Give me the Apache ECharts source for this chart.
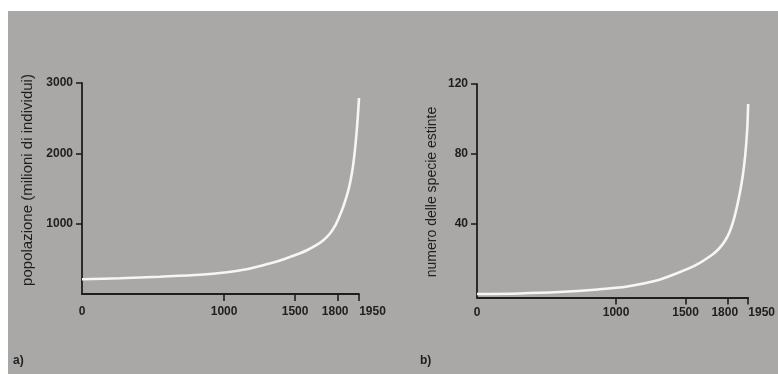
<!DOCTYPE html>
<html>
<head>
<meta charset="utf-8">
<script src="https://cdn.jsdelivr.net/npm/echarts@6/dist/echarts.min.js"></script>
<style>
  html, body { margin: 0; padding: 0; background: #fff; }
  #paper { position: absolute; left: 8px; top: 11px; width: 770px; height: 363px; background: #aaa8a6; }
  #main { position: absolute; left: 0; top: 0; width: 778px; height: 374px; }
</style>
</head>
<body>
<div id="paper"></div>
<div id="main"></div>
<script>
// a) popolazione mondiale (milioni)
var yearsA = [0, 268, 549, 831, 1021, 1148, 1253, 1394, 1535, 1591, 1652, 1697, 1746, 1781, 1809, 1837, 1866, 1887, 1908, 1925, 1939, 1950];
var popA = [209, 223, 246, 273, 309, 348, 398, 476, 579, 629, 697, 761, 860, 967, 1088, 1230, 1408, 1578, 1820, 2119, 2446, 2787];

// b) numero delle specie estinte
var yearsB = [0, 304, 587, 869, 1081, 1293, 1434, 1576, 1694, 1738, 1773, 1802, 1826, 1848, 1869, 1890, 1911, 1929, 1943, 1950];
var specB = [0, 0.3, 1.1, 2.6, 4.3, 7.7, 11.7, 16.6, 22.6, 25.7, 29.1, 32.9, 37.4, 42.9, 49.7, 57.7, 67.4, 79.4, 93.7, 108.6];

var xTicks = [0, 1000, 1500, 1800, 1950];
var yTicksA = [1000, 2000, 3000];
var yTicksB = [40, 80, 120];

var font = "'Liberation Sans', Arial, sans-serif";
var ink = '#1e1e1e';
var curve = '#f6f6f2';

function pairs(xs, ys) {
  return xs.map(function (x, i) { return [x, ys[i]]; });
}

var labelRich = {
  n: { fontFamily: font, fontSize: 12, fontWeight: 'bold', color: ink },
  l: { fontFamily: font, fontSize: 12, fontWeight: 'bold', color: ink, padding: [0, 5, 0, 0] },
  r: { fontFamily: font, fontSize: 12, fontWeight: 'bold', color: ink, padding: [0, 0, 0, 27] }
};

function xAxisFor(gridIndex, margin) {
  return {
    type: 'value', gridIndex: gridIndex, min: 0, max: 1950,
    splitLine: { show: false },
    axisLine: { onZero: false, lineStyle: { color: ink, width: 1.8 } },
    axisTick: { customValues: [1000, 1500, 1800, 1950], length: 7, lineStyle: { color: ink, width: 1.6 } },
    axisLabel: {
      customValues: xTicks, margin: margin, rich: labelRich,
      formatter: function (v) {
        if (v === 1950) return '{r|1950}';
        if (v === 1800) return '{l|1800}';
        return '{n|' + v + '}';
      }
    }
  };
}

function yAxisFor(gridIndex, min, max, ticks) {
  return {
    type: 'value', gridIndex: gridIndex, min: min, max: max,
    splitLine: { show: false },
    axisLine: { show: true, onZero: false, lineStyle: { color: ink, width: 1.8 } },
    axisTick: { customValues: ticks, length: 6, lineStyle: { color: ink, width: 1.6 } },
    axisLabel: {
      customValues: ticks, margin: 9,
      fontFamily: font, fontSize: 12, fontWeight: 'bold', color: ink,
      formatter: function (v) { return String(v); }
    }
  };
}

function lineSeries(idx, data) {
  return {
    type: 'line', xAxisIndex: idx, yAxisIndex: idx,
    data: data, showSymbol: false, symbol: 'none',
    smooth: 0.3,
    lineStyle: { color: curve, width: 2.6 },
    silent: true
  };
}

var chart = echarts.init(document.getElementById('main'), null, { renderer: 'canvas' });

chart.setOption({
  animation: false,
  backgroundColor: 'transparent',
  grid: [
    { left: 82, top: 83, width: 277, height: 211 },
    { left: 477, top: 84, width: 276, height: 213.5 }
  ],
  xAxis: [xAxisFor(0, 12), xAxisFor(1, 9)],
  yAxis: [yAxisFor(0, 0, 3000, yTicksA), yAxisFor(1, -2, 120, yTicksB)],
  series: [lineSeries(0, pairs(yearsA, popA)), lineSeries(1, pairs(yearsB, specB))],
  graphic: [
    {
      type: 'text', x: 28, y: 180, rotation: Math.PI / 2,
      style: { text: 'popolazione (milioni di individui)', font: '15px ' + font, fill: ink, align: 'center', verticalAlign: 'middle' }
    },
    {
      type: 'text', x: 432, y: 192, rotation: Math.PI / 2,
      style: { text: 'numero delle specie estinte', font: '14px ' + font, fill: ink, align: 'center', verticalAlign: 'middle' }
    },
    {
      type: 'text', x: 13, y: 361,
      style: { text: 'a)', font: "bold 12px 'Liberation Sans Narrow', " + font, fill: ink, verticalAlign: 'middle' }
    },
    {
      type: 'text', x: 420, y: 361,
      style: { text: 'b)', font: "bold 12px 'Liberation Sans Narrow', " + font, fill: ink, verticalAlign: 'middle' }
    }
  ]
});
</script>
</body>
</html>
